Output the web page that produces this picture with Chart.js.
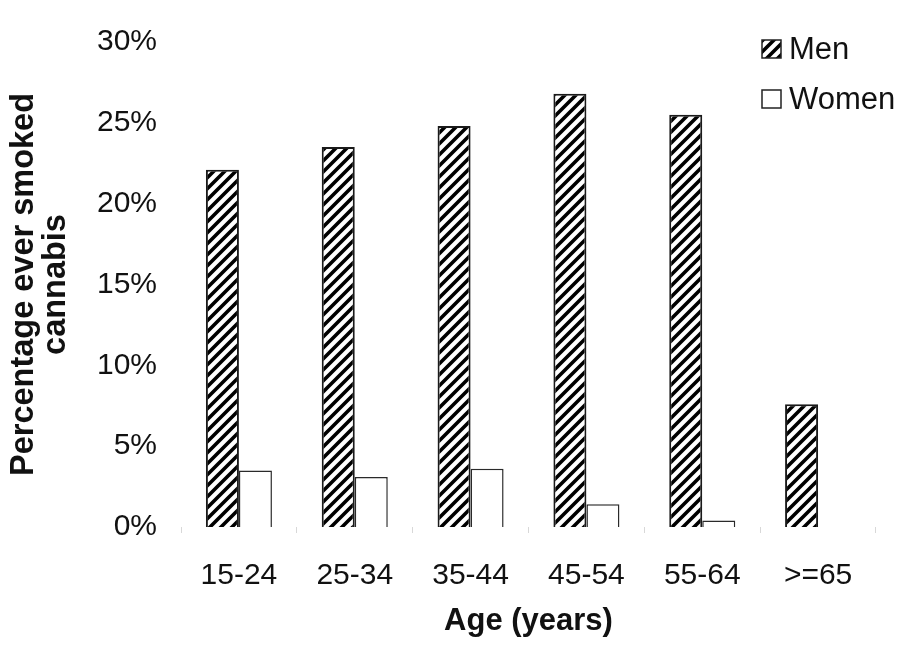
<!DOCTYPE html>
<html>
<head>
<meta charset="utf-8">
<script src="https://cdn.jsdelivr.net/npm/chart.js@4/dist/chart.umd.min.js"></script>
<style>
  html, body { margin: 0; padding: 0; background: #fff; }
  #wrap { width: 904px; height: 645px; position: relative; }
</style>
</head>
<body>
<div id="wrap"><canvas id="c" width="904" height="645"></canvas></div>
<script>
const categories = ['15-24', '25-34', '35-44', '45-54', '55-64', '>=65'];
const menValues = [22.1, 23.5, 24.8, 26.8, 25.5, 7.6];
const womenValues = [3.5, 3.1, 3.6, 1.4, 0.4, null];
const seriesNames = ['Men', 'Women'];
const yTickMax = 30;
const yTickStep = 5;
const xTitle = 'Age (years)';
const yTitle = ['Percentage ever smoked', 'cannabis'];

function hatchPattern() {
  const p = document.createElement('canvas');
  const s = 11;
  p.width = s; p.height = s;
  const g = p.getContext('2d');
  g.fillStyle = '#fff';
  g.fillRect(0, 0, s, s);
  g.strokeStyle = '#000';
  g.lineWidth = 3.6;
  g.beginPath();
  g.moveTo(-s, s); g.lineTo(s, -s);
  g.moveTo(0, s); g.lineTo(s, 0);
  g.moveTo(0, s * 2); g.lineTo(s * 2, 0);
  g.stroke();
  return g.createPattern(p, 'repeat');
}

const ctx = document.getElementById('c').getContext('2d');
const hatch = hatchPattern();
const FONT = "'Liberation Sans', Arial, Helvetica, sans-serif";

const legendPlugin = {
  id: 'cornerLegend',
  afterDraw(chart) {
    const c = chart.ctx;
    c.save();
    chart.data.datasets.forEach((ds, i) => {
      const y = 40 + i * 50;
      c.fillStyle = ds.backgroundColor;
      c.fillRect(762, y, 19, 18);
      c.strokeStyle = '#222';
      c.lineWidth = 1.5;
      c.strokeRect(762, y, 19, 18);
      c.fillStyle = '#111';
      c.font = '31px ' + FONT;
      c.textAlign = 'left';
      c.textBaseline = 'middle';
      c.fillText(ds.label, 789, y + 10);
    });
    c.restore();
  }
};

new Chart(ctx, {
  type: 'bar',
  data: {
    labels: categories,
    datasets: [
      {
        label: seriesNames[0],
        data: menValues,
        backgroundColor: hatch,
        borderColor: '#1a1a1a',
        borderWidth: 2,
        categoryPercentage: 0.57,
        barPercentage: 1.0
      },
      {
        label: seriesNames[1],
        data: womenValues,
        backgroundColor: '#ffffff',
        borderColor: '#2a2a2a',
        borderWidth: 1.5,
        categoryPercentage: 0.57,
        barPercentage: 1.0
      }
    ]
  },
  options: {
    responsive: false,
    animation: false,
    devicePixelRatio: 1,
    layout: { padding: { top: 30, right: 28, left: 0, bottom: 0 } },
    plugins: {
      legend: { display: false },
      tooltip: { enabled: false }
    },
    scales: {
      x: {
        afterFit(s) { s.height = 118; },
        border: { display: false },
        grid: {
          display: true,
          drawOnChartArea: false,
          drawTicks: true,
          tickLength: 6,
          color: '#d8d8d8',
          lineWidth: 1
        },
        ticks: {
          color: '#111',
          font: { family: FONT, size: 30 },
          padding: 25,
          maxRotation: 0,
          autoSkip: false
        },
        title: {
          display: true,
          text: xTitle,
          color: '#111',
          font: { family: FONT, size: 31, weight: 'bold', lineHeight: 1.2 },
          padding: { top: 0, bottom: 5 }
        }
      },
      y: {
        afterFit(s) { s.width = 181; },
        min: 0,
        max: yTickMax,
        border: { display: false },
        grid: { display: false, drawTicks: false },
        ticks: {
          stepSize: yTickStep,
          color: '#111',
          font: { family: FONT, size: 30 },
          padding: 24,
          callback: (v) => v + '%'
        },
        title: {
          display: true,
          text: yTitle,
          color: '#111',
          font: { family: FONT, size: 32.5, weight: 'bold', lineHeight: 0.99 },
          padding: { top: 8, bottom: 0 }
        }
      }
    }
  },
  plugins: [legendPlugin]
});
</script>
</body>
</html>
